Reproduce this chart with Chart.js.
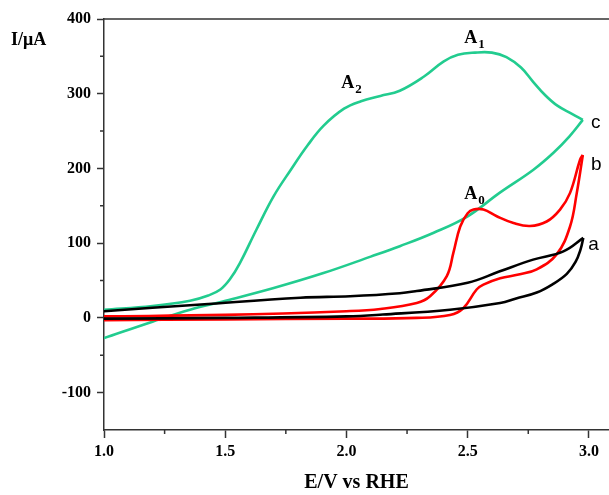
<!DOCTYPE html>
<html>
<head>
<meta charset="utf-8">
<script src="https://cdn.jsdelivr.net/npm/chart.js@4/dist/chart.umd.min.js"></script>
<style>
  html, body { margin: 0; padding: 0; background: #fff; }
  #wrap { width: 609px; height: 495px; }
</style>
</head>
<body>
<div id="wrap"><canvas id="cv"></canvas></div>
<script>
// curve c (green): upper (forward) and lower (reverse) branches, x increasing
const cUpperX = [1.0, 1.2, 1.355, 1.43, 1.48, 1.52, 1.56, 1.63, 1.70, 1.77, 1.84, 1.905, 1.99, 2.06, 2.14, 2.22, 2.32, 2.40, 2.46, 2.53, 2.60, 2.66, 2.72, 2.77, 2.82, 2.87, 2.93, 2.975];
const cUpperY = [11, 16, 23, 30, 38, 52, 73, 119, 163, 198, 231, 257, 280, 290, 297, 304, 323, 343, 352, 355, 355, 349, 335, 316, 298, 284, 273, 265];
const cLowerX = [1.0, 1.2, 1.355, 1.49, 1.70, 1.905, 2.10, 2.22, 2.36, 2.50, 2.63, 2.77, 2.854, 2.92, 2.975];
const cLowerY = [-27, -5, 11, 22, 40, 60, 82, 96, 114, 136, 167, 198, 221, 243, 265];

// curve a (black)
const aUpperX = [1.0, 1.4, 1.81, 2.015, 2.22, 2.29, 2.50, 2.63, 2.77, 2.895, 2.977];
const aUpperY = [9, 18, 27, 29, 33, 36, 47, 62, 78, 89, 107];
const aLowerX = [1.0, 1.5, 2.0, 2.15, 2.427, 2.634, 2.70, 2.785, 2.85, 2.909, 2.945, 2.966, 2.977];
const aLowerY = [-1, 0, 2, 4.5, 11, 20, 26, 34, 45, 59, 75, 92, 107];

// curve b (red)
const bUpperX = [1.0, 1.5, 2.0, 2.14, 2.29, 2.345, 2.414, 2.441, 2.469, 2.50, 2.524, 2.565, 2.62, 2.689, 2.757, 2.826, 2.881, 2.922, 2.964, 2.975];
const bUpperY = [2, 4, 9, 12, 20, 29, 56, 87, 122, 140, 145, 145, 136, 127, 123, 129, 145, 167, 212, 218];
const bLowerX = [1.0, 1.5, 2.0, 2.29, 2.427, 2.482, 2.537, 2.565, 2.634, 2.71, 2.785, 2.867, 2.922, 2.95, 2.975];
const bLowerY = [-3, -2, -1, 0, 4, 13, 38, 44.5, 53, 58, 65, 85, 122, 167, 218];

const xTicks = [1.0, 1.5, 2.0, 2.5, 3.0];
const xMinor = [1.25, 1.75, 2.25, 2.75];
const yTicks = [-100, 0, 100, 200, 300, 400];
const yMinor = [-50, 50, 150, 250, 350];

// peak and curve labels [text, subscript, x, y]
const peakLabels = [['A', '1', 2.486, 368], ['A', '2', 1.979, 308], ['A', '0', 2.486, 159.5]];
const curveLabels = [['a', 2.997, 91], ['b', 3.009, 198], ['c', 3.009, 254]];

const pts = (xs, ys) => xs.map((x, i) => ({ x: x, y: ys[i] }));
const GREEN = '#22cc8f';

function series(xs, ys, color) {
  return {
    data: pts(xs, ys),
    borderColor: color,
    borderWidth: 2.6,
    pointRadius: 0,
    fill: false,
    tension: 0.4
  };
}

const extras = {
  id: 'extras',
  afterDraw(chart) {
    const c = chart.ctx, xs = chart.scales.x, ys = chart.scales.y, a = chart.chartArea;
    c.save();
    c.strokeStyle = '#333';
    c.lineWidth = 1.5;
    c.beginPath();
    c.moveTo(a.left, a.top);
    c.lineTo(a.right, a.top);
    yMinor.forEach(v => {
      const p = ys.getPixelForValue(v);
      c.moveTo(a.left - 4, p); c.lineTo(a.left, p);
    });
    xMinor.forEach(v => {
      const p = xs.getPixelForValue(v);
      c.moveTo(p, a.bottom); c.lineTo(p, a.bottom + 4);
    });
    c.stroke();

    c.fillStyle = '#000';
    c.textBaseline = 'alphabetic';
    c.textAlign = 'left';
    peakLabels.forEach(([t, s, x, y]) => {
      const px = xs.getPixelForValue(x), py = ys.getPixelForValue(y);
      c.font = 'bold 18px "Liberation Serif"';
      c.fillText(t, px, py);
      const w = c.measureText(t).width;
      c.font = 'bold 13px "Liberation Serif"';
      c.fillText(s, px + w + 1, py + 5);
    });
    c.font = '19px "Liberation Sans"';
    curveLabels.forEach(([t, x, y]) => {
      c.fillText(t, xs.getPixelForValue(x), ys.getPixelForValue(y));
    });
    c.font = 'bold 18px "Liberation Serif"';
    c.fillText('I/\u03bcA', 11, 45);
    c.restore();
  }
};

new Chart(document.getElementById('cv'), {
  type: 'line',
  data: {
    datasets: [
      series(aUpperX, aUpperY, '#000'),
      series(aLowerX, aLowerY, '#000'),
      series(bUpperX, bUpperY, '#ff0000'),
      series(bLowerX, bLowerY, '#ff0000'),
      series(cUpperX, cUpperY, GREEN),
      series(cLowerX, cLowerY, GREEN)
    ]
  },
  options: {
    responsive: true,
    maintainAspectRatio: false,
    animation: false,
    layout: { padding: { top: 19, right: 0, bottom: 0, left: 0 } },
    plugins: { legend: { display: false }, tooltip: { enabled: false } },
    scales: {
      x: {
        type: 'linear',
        min: 1.0,
        max: 3.083,
        afterBuildTicks: s => { s.ticks = xTicks.map(v => ({ value: v })); },
        afterFit: s => { s.height = 65; },
        ticks: {
          color: '#000',
          font: { family: 'Liberation Serif', size: 16, weight: 'bold' },
          padding: 4,
          maxRotation: 0,
          callback: v => v.toFixed(1)
        },
        grid: { drawOnChartArea: false, tickLength: 8, color: '#333', tickWidth: 1.5 },
        border: { color: '#333', width: 1.5 },
        title: {
          display: true,
          text: 'E/V vs RHE',
          color: '#000',
          font: { family: 'Liberation Serif', size: 20, weight: 'bold' },
          padding: { top: 10, bottom: 0 }
        }
      },
      y: {
        type: 'linear',
        min: -150,
        max: 400,
        afterBuildTicks: s => { s.ticks = yTicks.map(v => ({ value: v })); },
        afterFit: s => { s.width = 104; },
        ticks: {
          color: '#000',
          font: { family: 'Liberation Serif', size: 16, weight: 'bold' },
          padding: 6
        },
        grid: { drawOnChartArea: false, tickLength: 7, color: '#333', tickWidth: 1.5 },
        border: { color: '#333', width: 1.5 }
      }
    }
  },
  plugins: [extras]
});
</script>
</body>
</html>
